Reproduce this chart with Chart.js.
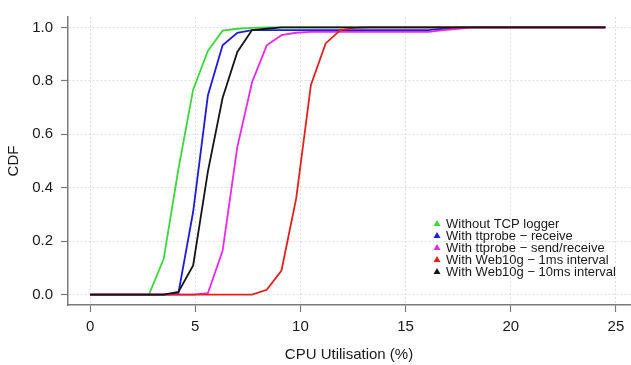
<!DOCTYPE html>
<html>
<head>
<meta charset="utf-8">
<script src="https://cdn.jsdelivr.net/npm/chart.js@4.4.1/dist/chart.umd.min.js"></script>
<style>
  html, body { margin: 0; background: #fff; }
  #wrap { width: 631px; height: 365px; }
</style>
</head>
<body>
<div id="wrap"><canvas id="cdf" width="631" height="365"></canvas></div>
<script>
// CPU utilisation bins (%), one sample every 0.7
const cpuSteps = [0, 0.7, 1.4, 2.1, 2.8, 3.5, 4.2, 4.9, 5.6, 6.3, 7.0, 7.7, 8.4, 9.1, 9.8, 10.5, 11.2, 11.9,
  12.6, 13.3, 14.0, 14.7, 15.4, 16.1, 16.8, 17.5, 18.2, 18.9, 19.6, 20.3, 21.0, 21.7, 22.4, 23.1, 23.8, 24.5];

const seriesNames = [
  "Without TCP logger",
  "With ttprobe \u2212 receive",
  "With ttprobe \u2212 send/receive",
  "With Web10g \u2212 1ms interval",
  "With Web10g \u2212 10ms interval"
];
const seriesColors = ["#3cd83c", "#1c1ce0", "#ec28ec", "#e4201c", "#151515"];

const withoutLogger = [0, 0, 0, 0, 0, 0.134, 0.47, 0.767, 0.912, 0.988, 0.995, 0.998, 1, 1, 1, 1, 1, 1,
  1, 1, 1, 1, 1, 1, 1, 1, 1, 1, 1, 1, 1, 1, 1, 1, 1, 1];
const ttprobeRecv = [0, 0, 0, 0, 0, 0, 0.005, 0.31, 0.745, 0.933, 0.98, 0.99, 0.99, 0.99, 0.99, 0.99, 0.99, 0.99,
  0.99, 0.99, 0.99, 0.99, 0.99, 0.99, 0.995, 1, 1, 1, 1, 1, 1, 1, 1, 1, 1, 1];
const ttprobeSendRecv = [0, 0, 0, 0, 0, 0, 0, 0, 0.005, 0.164, 0.552, 0.795, 0.933, 0.971, 0.98, 0.983, 0.983, 0.983,
  0.983, 0.983, 0.983, 0.983, 0.983, 0.983, 0.99, 0.995, 1, 1, 1, 1, 1, 1, 1, 1, 1, 1];
const web10g1ms = [0, 0, 0, 0, 0, 0, 0, 0, 0, 0, 0, 0, 0.018, 0.09, 0.36, 0.785, 0.94, 0.99,
  0.998, 1, 1, 1, 1, 1, 1, 1, 1, 1, 1, 1, 1, 1, 1, 1, 1, 1];
const web10g10ms = [0, 0, 0, 0, 0, 0, 0.01, 0.109, 0.46, 0.736, 0.908, 0.99, 0.995, 1, 1, 1, 1, 1,
  1, 1, 1, 1, 1, 1, 1, 1, 1, 1, 1, 1, 1, 1, 1, 1, 1, 1];

const allSeries = [withoutLogger, ttprobeRecv, ttprobeSendRecv, web10g1ms, web10g10ms];
// later series are painted over earlier ones (black ends up on top)
const drawOrder = [4, 3, 2, 1, 0];

const xTicks = [0, 5, 10, 15, 20, 25];
const yTicks = [0, 0.2, 0.4, 0.6, 0.8, 1.0];

Chart.defaults.font.family = '"Liberation Sans", Arial, sans-serif';
Chart.defaults.font.size = 15;
Chart.defaults.color = "#1a1a1a";

const axisGray = "#7a7a7a";
const gridGray = "#dedede";

// R-style legend sitting inside the plot, bottom right
const insideLegend = {
  id: "insideLegend",
  afterDraw(chart) {
    const ctx = chart.ctx;
    ctx.save();
    ctx.font = '13px "Liberation Sans", Arial, sans-serif';
    ctx.textBaseline = "middle";
    ctx.textAlign = "left";
    seriesNames.forEach((name, i) => {
      const y = 223.5 + i * 12;
      const x = 437;
      ctx.fillStyle = seriesColors[i];
      ctx.beginPath();
      ctx.moveTo(x, y - 3.5);
      ctx.lineTo(x + 3.5, y + 2.5);
      ctx.lineTo(x - 3.5, y + 2.5);
      ctx.closePath();
      ctx.fill();
      ctx.fillStyle = "#1a1a1a";
      ctx.fillText(name, 446, y + 0.5);
    });
    ctx.restore();
  }
};

new Chart(document.getElementById("cdf"), {
  type: "line",
  data: {
    datasets: allSeries.map((vals, i) => ({
      label: seriesNames[i],
      data: vals.map((v, k) => ({ x: cpuSteps[k], y: v })),
      borderColor: seriesColors[i],
      borderWidth: 1.8,
      pointRadius: 0,
      tension: 0,
      fill: false,
      order: drawOrder[i]
    }))
  },
  options: {
    responsive: false,
    animation: false,
    layout: { padding: { top: 13, right: 1, left: 0, bottom: 0 } },
    plugins: {
      legend: { display: false },
      tooltip: { enabled: false }
    },
    scales: {
      x: {
        type: "linear",
        min: -1.05,
        max: 25.67,
        afterFit: (s) => { s.height = 60; },
        afterBuildTicks: (s) => { s.ticks = xTicks.map((v) => ({ value: v })); },
        ticks: { padding: 6, maxRotation: 0, callback: (v) => String(v) },
        grid: { color: gridGray, lineWidth: 1, tickLength: 7, tickColor: axisGray, tickWidth: 1.2 },
        border: { display: true, color: axisGray, width: 1.5, dash: [2, 2] },
        title: { display: true, text: "CPU Utilisation (%)", padding: { top: 0, bottom: 1 } }
      },
      y: {
        min: -0.039,
        max: 1.039,
        afterFit: (s) => { s.width = 68; },
        afterBuildTicks: (s) => { s.ticks = yTicks.map((v) => ({ value: v })); },
        ticks: { padding: 8, callback: (v) => v.toFixed(1) },
        grid: { color: gridGray, lineWidth: 1, tickLength: 7, tickColor: axisGray, tickWidth: 1.2 },
        border: { display: true, color: axisGray, width: 1.5, dash: [2, 2] },
        title: { display: true, text: "CDF", padding: { top: 5, bottom: 0 } }
      }
    }
  },
  plugins: [insideLegend]
});
</script>
</body>
</html>
